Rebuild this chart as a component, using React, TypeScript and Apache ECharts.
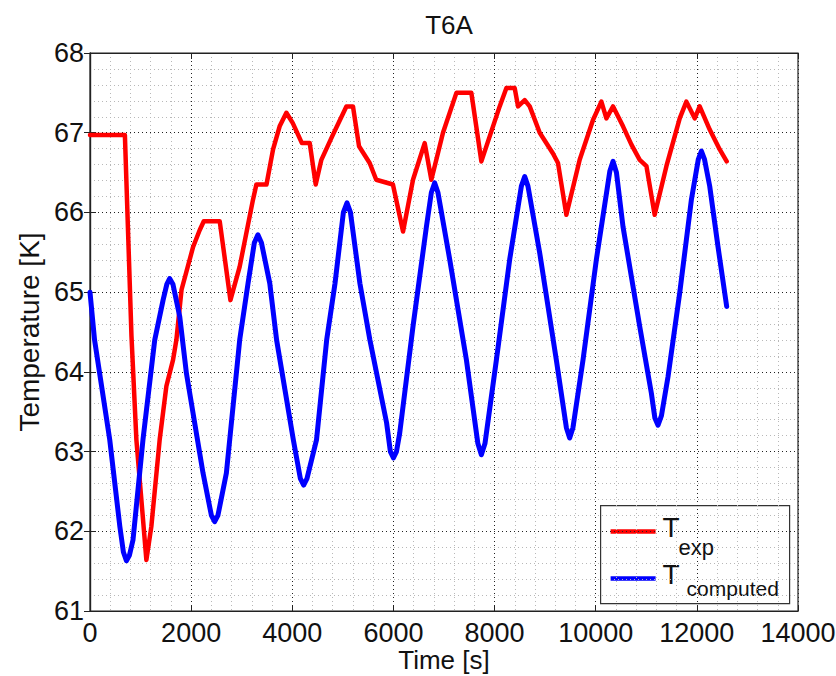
import React, { useEffect, useRef } from "react";
import * as echarts from "echarts";

// Measured temperature (T_exp)
const expTime = [
  0, 690, 820, 917, 1115, 1213, 1378, 1510, 1642, 1708, 1810, 2040, 2170, 2250, 2565,
  2777, 2960, 3223, 3290, 3490, 3620, 3750, 3883, 4010, 4190, 4345, 4463, 4575, 4800,
  5070, 5200, 5320, 5530, 5660, 5990, 6190, 6387, 6618, 6750, 6980, 7245, 7541, 7739,
  8101, 8234, 8398, 8464, 8596, 8695, 8893, 9155, 9254, 9420, 9683, 9946, 10112, 10211,
  10343, 10540, 10706, 10870, 11003, 11166, 11398, 11661, 11793, 11957, 12056, 12254,
  12452, 12590,
];
const expTemp = [
  66.97, 66.97, 64.45, 63.15, 61.64, 62.06, 63.15, 63.82, 64.15, 64.4, 65.03, 65.57, 65.78,
  65.89, 65.89, 64.9, 65.32, 66.16, 66.35, 66.35, 66.79, 67.08, 67.25, 67.12, 66.87, 66.87,
  66.35, 66.66, 66.97, 67.33, 67.33, 66.83, 66.62, 66.41, 66.35, 65.76, 66.41, 66.87, 66.41,
  67.0, 67.5, 67.5, 66.64, 67.33, 67.56, 67.56, 67.33, 67.41, 67.33, 67.0, 66.74, 66.62,
  65.97, 66.66, 67.16, 67.39, 67.18, 67.33, 67.08, 66.85, 66.66, 66.58, 65.97, 66.58, 67.18,
  67.39, 67.18, 67.33, 67.04, 66.79, 66.64,
];

// Model output (T_computed)
const compTime = [
  0, 90, 390, 590, 660, 720, 780, 850, 1048, 1280, 1445, 1520, 1575, 1640, 1775, 1907,
  2235, 2400, 2465, 2530, 2697, 2960, 3125, 3250, 3320, 3390, 3555, 3690, 4020, 4160,
  4225, 4290, 4480, 4680, 4845, 5010, 5082, 5150, 5337, 5535, 5865, 5940, 6000, 6060,
  6124, 6387, 6652, 6750, 6816, 6880, 7113, 7443, 7670, 7739, 7810, 8036, 8299, 8530,
  8596, 8660, 8893, 9221, 9420, 9485, 9550, 9749, 10013, 10280, 10343, 10410, 10540,
  10870, 11101, 11170, 11232, 11300, 11430, 11661, 11892, 12030, 12090, 12150, 12254,
  12418, 12590,
];
const compTemp = [
  65.0, 64.4, 63.15, 62.06, 61.74, 61.63, 61.7, 61.89, 63.15, 64.4, 64.9, 65.1, 65.17, 65.1,
  64.69, 63.98, 62.73, 62.2, 62.12, 62.2, 62.73, 64.4, 65.11, 65.62, 65.72, 65.62, 65.11,
  64.4, 63.15, 62.66, 62.58, 62.66, 63.15, 64.4, 65.11, 66.0, 66.12, 66.0, 65.11, 64.4,
  63.36, 63.0, 62.92, 63.0, 63.23, 64.57, 65.82, 66.25, 66.37, 66.25, 65.41, 64.15, 63.1,
  62.96, 63.1, 64.15, 65.41, 66.33, 66.45, 66.33, 65.49, 64.15, 63.3, 63.17, 63.3, 64.15,
  65.41, 66.52, 66.64, 66.5, 65.82, 64.57, 63.73, 63.42, 63.33, 63.45, 63.94, 64.99, 66.16,
  66.67, 66.77, 66.67, 66.33, 65.57, 64.82,
];

const xMin = 0;
const xMax = 14000;
const xStep = 2000;
const yMin = 61;
const yMax = 68;
const yStep = 1;

const FONT = "'Liberation Sans', Arial, Helvetica, sans-serif";

const pairs = (xs: number[], ys: number[]) => xs.map((x, i) => [x, ys[i]]);
const plain = (v: number) => String(v);

export default function App() {
  const ref = useRef<HTMLDivElement>(null);

  useEffect(() => {
    if (!ref.current) return;
    const chart = echarts.init(ref.current, null, { renderer: "svg" });

    const majorLine = { show: true, lineStyle: { color: "#222", width: 1, type: [1, 3] as any } };
    const minorLine = { show: true, lineStyle: { color: "#b8b8b8", width: 1, type: [1, 3] as any } };
    const tickIn = { show: true, inside: true, length: 6, lineStyle: { color: "#222", width: 1 } };

    chart.setOption({
      animation: false,
      backgroundColor: "#fff",
      title: {
        text: "T6A",
        left: 444,
        top: 7,
        textAlign: "center",
        textStyle: { fontFamily: FONT, fontSize: 26, fontWeight: "normal", color: "#111" },
      },
      grid: {
        left: 90,
        top: 53,
        right: 38,
        bottom: 65,
        containLabel: false,
        outerBoundsMode: "none",
        show: true,
        borderColor: "#222",
        borderWidth: 1.2,
        backgroundColor: "transparent",
      },
      xAxis: [
        {
          type: "value",
          min: xMin,
          max: xMax,
          interval: xStep,
          name: "Time [s]",
          nameLocation: "middle",
          nameGap: 35,
          nameMoveOverlap: false,
          nameTextStyle: { fontFamily: FONT, fontSize: 26, lineHeight: 28, color: "#111" },
          axisLine: { show: true, onZero: false, lineStyle: { color: "#222", width: 1.2 } },
          axisTick: tickIn,
          axisLabel: { fontFamily: FONT, fontSize: 27, color: "#111", margin: 8, formatter: plain },
          splitLine: majorLine,
          minorTick: { show: false, splitNumber: 5 },
          minorSplitLine: minorLine,
        },
        {
          type: "value",
          position: "top",
          min: xMin,
          max: xMax,
          interval: xStep,
          axisLine: { show: true, lineStyle: { color: "#222", width: 1.2 } },
          axisTick: tickIn,
          axisLabel: { show: false },
          splitLine: { show: false },
        },
      ],
      yAxis: [
        {
          type: "value",
          min: yMin,
          max: yMax,
          interval: yStep,
          name: "Temperature [K]",
          nameLocation: "middle",
          nameGap: 42,
          nameRotate: 90,
          nameTextStyle: { fontFamily: FONT, fontSize: 28, color: "#111" },
          axisLine: { show: true, onZero: false, lineStyle: { color: "#222", width: 1.2 } },
          axisTick: tickIn,
          axisLabel: { fontFamily: FONT, fontSize: 27, color: "#111", margin: 6, formatter: plain },
          splitLine: majorLine,
          minorTick: { show: false, splitNumber: 5 },
          minorSplitLine: minorLine,
        },
        {
          type: "value",
          position: "right",
          min: yMin,
          max: yMax,
          interval: yStep,
          axisLine: { show: true, lineStyle: { color: "#222", width: 1.2 } },
          axisTick: tickIn,
          axisLabel: { show: false },
          splitLine: { show: false },
        },
      ],
      series: [
        {
          name: "T_exp",
          type: "line",
          data: pairs(expTime, expTemp),
          showSymbol: false,
          lineStyle: { color: "#ff0000", width: 4.5, join: "round", cap: "round" },
          z: 3,
        },
        {
          name: "T_computed",
          type: "line",
          data: pairs(compTime, compTemp),
          showSymbol: false,
          lineStyle: { color: "#0000ff", width: 5, join: "round", cap: "round" },
          z: 4,
        },
      ],
      graphic: [
        {
          type: "group",
          left: 600,
          top: 505,
          z: 100,
          children: [
            {
              type: "rect",
              shape: { x: 0, y: 0, width: 189, height: 98 },
              style: { fill: "#fff", stroke: "#333", lineWidth: 1.2 },
            },
            {
              type: "line",
              shape: { x1: 10, y1: 26, x2: 55, y2: 26 },
              style: { stroke: "#ff0000", lineWidth: 4.5 },
            },
            {
              type: "line",
              shape: { x1: 10, y1: 73, x2: 55, y2: 73 },
              style: { stroke: "#0000ff", lineWidth: 4.5 },
            },
            {
              type: "text",
              x: 62,
              y: 8,
              style: { text: "T", fontFamily: FONT, fontSize: 28, fill: "#111" },
            },
            {
              type: "text",
              x: 78,
              y: 31,
              style: { text: "exp", fontFamily: FONT, fontSize: 22, fill: "#111" },
            },
            {
              type: "text",
              x: 62,
              y: 55,
              style: { text: "T", fontFamily: FONT, fontSize: 28, fill: "#111" },
            },
            {
              type: "text",
              x: 86,
              y: 72,
              style: { text: "computed", fontFamily: FONT, fontSize: 21, fill: "#111" },
            },
          ],
        },
      ],
    });

    return () => chart.dispose();
  }, []);

  return (
    <div
      ref={ref}
      style={{ position: "fixed", left: 0, top: 0, width: 836, height: 676, overflow: "hidden" }}
    />
  );
}
